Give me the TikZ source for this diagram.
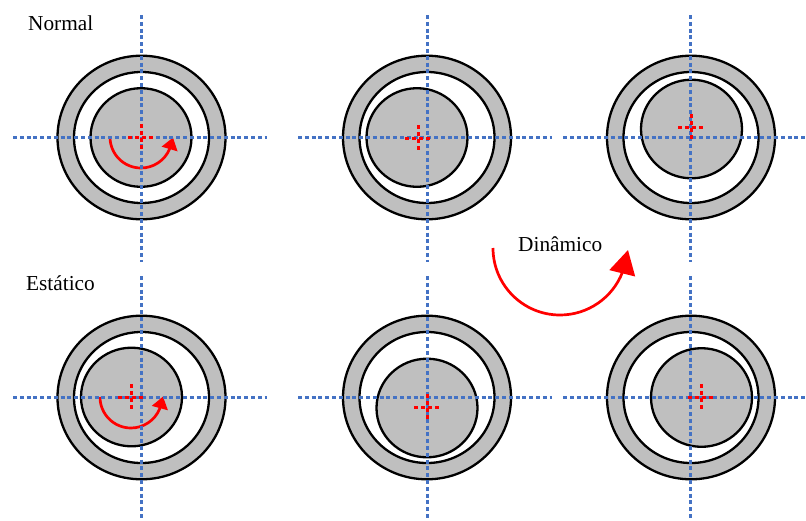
\documentclass[tikz,border=0pt]{standalone}
\usepackage{fontspec}
\setmainfont{Liberation Serif}
\usetikzlibrary{arrows.meta}
\definecolor{ringgray}{HTML}{BFBFBF}
\definecolor{axisblue}{HTML}{4472C4}
\tikzset{
  outerring/.style={draw=black,line width=2.3pt,fill=ringgray},
  innerbore/.style={draw=black,line width=2.3pt,fill=white},
  shaft/.style={draw=black,line width=2.3pt,fill=ringgray},
  axisline/.style={draw=axisblue,line width=3pt,dash pattern=on 4pt off 2.8pt},
  crossline/.style={draw=red,line width=3pt,dash pattern=on 4pt off 3pt},
  rotarrow/.style={draw=red,line width=2.7pt,-{Triangle[length=12pt,width=16pt,fill=red]}},
  bigarrow/.style={draw=red,line width=2.7pt,-{Triangle[length=24pt,width=26pt,fill=red]}},
  lbl/.style={anchor=base west,inner sep=0pt,font=\fontsize{21.3}{25}\selectfont}
}
\newcommand{\bearing}[4]{% ring cx, ring cy, shaft cx, shaft cy
  \draw[outerring] (#1,#2) ellipse [x radius=84pt,y radius=81.8pt];
  \draw[innerbore] (#1,#2) ellipse [x radius=67.5pt,y radius=65.5pt];
  \draw[shaft] (#3,#4) ellipse [x radius=50.5pt,y radius=49.3pt];
}
\newcommand{\axes}[6]{% vx, vtop, vbot, hy, hleft, hright
  \draw[axisline] (#1,#2) -- (#1,#3);
  \draw[axisline] (#5,#4) -- (#6,#4);
}
\newcommand{\crossmark}[2]{%
  \draw[crossline] (#1-13,#2) -- (#1+13,#2);
  \draw[crossline] (#1,#2-13) -- (#1,#2+13);
}
\begin{document}
\begin{tikzpicture}[x=1pt,y=1pt,yscale=-1]
\useasboundingbox (0,0) rectangle (806,520);
% top row
\bearing{141.5}{137.5}{141}{137.5}
\bearing{427}{137.5}{417}{137.5}
\bearing{691}{137.5}{691.5}{129}
% bottom row
\bearing{141.5}{397.5}{131.5}{397}
\bearing{427}{397.5}{427}{408}
\bearing{691}{397.5}{701.5}{397.5}
% rotation arrows
\draw[rotarrow] (110,137) arc[start angle=180,end angle=22.5,radius=31pt] -- (173,137.5);
\draw[rotarrow] (100,397) arc[start angle=180,end angle=22.5,radius=31pt] -- (163,396.5);
\draw[bigarrow] (493,248) arc[start angle=180,end angle=21,radius=67pt] -- (628,250);
% axes
\axes{141}{15}{262}{137}{13}{267}
\axes{427}{15}{262}{137}{298}{552}
\axes{690}{15}{262}{137}{563.2}{806}
\axes{141}{276}{520}{397}{13}{267}
\axes{427}{276}{520}{397}{298}{552}
\axes{690}{276}{520}{397}{563.2}{806}
% centre marks
\crossmark{141}{137}
\crossmark{418}{138}
\crossmark{691}{127}
\crossmark{131}{397}
\crossmark{427}{407}
\crossmark{701}{397}
% labels
\node[lbl] (normal) at (28,30) {Normal};
\node[lbl] (estatico) at (26,290) {Estático};
\node[lbl] (dinamico) at (518,251) {Dinâmico};
\end{tikzpicture}
\end{document}
